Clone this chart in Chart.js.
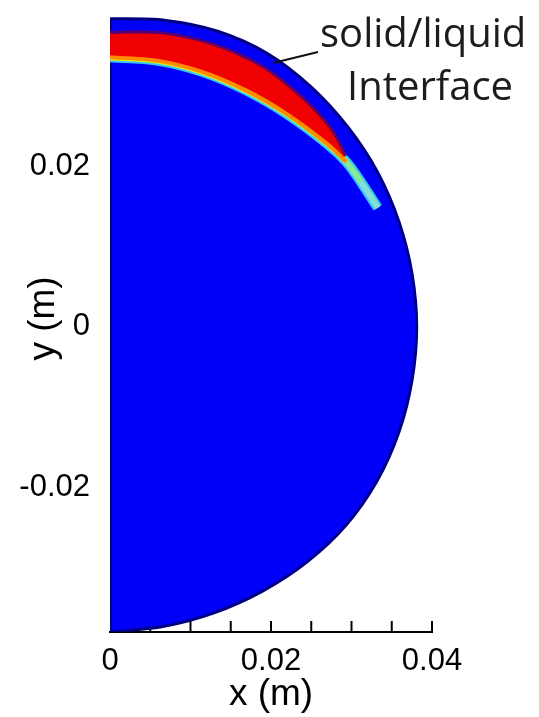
<!DOCTYPE html>
<html>
<head>
<meta charset="utf-8">
<script src="https://cdn.jsdelivr.net/npm/chart.js@4.4.1/dist/chart.umd.min.js"></script>
<style>
  html, body { margin: 0; padding: 0; background: #fff; }
  canvas { display: block; }
</style>
</head>
<body>
<canvas id="graficoFusion" width="539" height="717"></canvas>
<script>
// Borde del dominio (semicirculo), en coordenadas polares: angulo (grados) y radio (m)
const anguloBorde = [90, 80, 70, 60, 50, 40, 30, 20, 10, 0, -10, -20, -30, -40, -50, -60, -70, -80, -90];
const radioBorde = [0.0383, 0.0387, 0.0391, 0.0392, 0.0389, 0.0386, 0.0384, 0.0382, 0.0381, 0.0381,
  0.0381, 0.0382, 0.0383, 0.0383, 0.0381, 0.0379, 0.0378, 0.0378, 0.0379];

// Zona liquida (roja): radio exterior y radio de la interfaz
const anguloLiquido = [90, 80, 70, 60, 50, 42, 36];
const radioLiquidoExt = [0.0366, 0.0371, 0.0374, 0.0375, 0.0372, 0.0369, 0.0362];
const radioLiquidoInt = [0.0335, 0.0336, 0.0337, 0.0339, 0.0344, 0.0351, 0.0357];

// Interfaz solido/liquido
const anguloInterfaz = [90, 80, 70, 60, 50, 40, 35, 30, 24];
const radioInterfaz = [0.0335, 0.0336, 0.0337, 0.0339, 0.0344, 0.0353, 0.0358, 0.0360, 0.0364];

// Ejes
const ticksX = [0, 0.02, 0.04];
const marcasEjeX = [0.005, 0.01, 0.015, 0.02, 0.025, 0.03, 0.035, 0.04];
const ticksY = [-0.02, 0, 0.02];

const FUENTE = '"Liberation Sans", Arial, sans-serif';

function aCartesiano(angulos, radios) {
  return angulos.map((a, i) => ({
    x: radios[i] * Math.cos(a * Math.PI / 180),
    y: radios[i] * Math.sin(a * Math.PI / 180)
  }));
}

const puntosBorde = aCartesiano(anguloBorde, radioBorde);
puntosBorde.push(puntosBorde[0]); // cerrar por el eje x = 0

const puntosLiquido = aCartesiano(anguloLiquido, radioLiquidoExt)
  .concat(aCartesiano(anguloLiquido, radioLiquidoInt).reverse());
puntosLiquido.push(puntosLiquido[0]);

const puntosInterfaz = aCartesiano(anguloInterfaz, radioInterfaz);
const puntosTransicion = aCartesiano(anguloLiquido, radioLiquidoExt);

// colores de la interfaz, de arriba hacia el extremo
const coloresInterfaz = ['#f2ee00', '#eef000', '#e6f206', '#d6f214', '#bcf030', '#a0ee60', '#88e8a0', '#80e0d8'];

// marcas pequeñas del eje x, hacia dentro
const marcasX = {
  id: 'marcasX',
  beforeDatasetsDraw(chart) {
    const { ctx, scales: { x } } = chart;
    ctx.save();
    ctx.strokeStyle = '#000';
    ctx.lineWidth = 2;
    marcasEjeX.forEach(v => {
      const px = x.getPixelForValue(v);
      ctx.beginPath();
      ctx.moveTo(px, x.top);
      ctx.lineTo(px, x.top - 11);
      ctx.stroke();
    });
    ctx.restore();
  }
};

// rotulo de la interfaz con su linea guia
const rotulo = {
  id: 'rotulo',
  afterDraw(chart) {
    const ctx = chart.ctx;
    ctx.save();
    ctx.strokeStyle = '#111';
    ctx.lineWidth = 2;
    ctx.beginPath();
    ctx.moveTo(318, 52);
    ctx.lineTo(273, 63);
    ctx.stroke();
    ctx.fillStyle = '#1c1c1c';
    ctx.font = '40px "Open Sans", sans-serif';
    ctx.textBaseline = 'alphabetic';
    ctx.fillText('solid/liquid', 320, 47);
    ctx.fillText('Interface', 347, 100);
    ctx.restore();
  }
};

function linea(datos, extra) {
  return Object.assign({
    data: datos,
    showLine: true,
    pointRadius: 0,
    fill: false,
    tension: 0.35
  }, extra);
}

new Chart(document.getElementById('graficoFusion'), {
  type: 'scatter',
  data: {
    datasets: [
      linea(puntosBorde, {
        order: 6, tension: 0.3, fill: 'shape',
        backgroundColor: '#0000f8', borderColor: '#00007c', borderWidth: 3
      }),
      linea(puntosInterfaz, {
        order: 5, borderColor: '#38c8f0', borderWidth: 10
      }),
      linea(puntosInterfaz, {
        order: 4, borderWidth: 6,
        segment: { borderColor: c => coloresInterfaz[c.p0DataIndex] }
      }),
      linea(puntosLiquido, {
        order: 3, tension: 0, fill: 'shape',
        backgroundColor: '#f00000', borderColor: 'rgba(0,0,0,0)', borderWidth: 0
      }),
      linea(puntosTransicion, {
        order: 2, borderColor: '#5a0070', borderWidth: 3
      }),
      linea(puntosInterfaz.slice(0, 7), {
        order: 1, borderColor: '#ff8a00', borderWidth: 4
      })
    ]
  },
  options: {
    responsive: false,
    animation: false,
    devicePixelRatio: 1,
    layout: { padding: { top: 5, right: 107, bottom: 0, left: 0 } },
    plugins: {
      legend: { display: false },
      tooltip: { enabled: false }
    },
    scales: {
      x: {
        type: 'linear',
        min: 0,
        max: 0.04,
        afterBuildTicks: s => { s.ticks = ticksX.map(v => ({ value: v })); },
        afterFit: s => { s.height = 85; s.paddingLeft = 0; s.paddingRight = 0; },
        grid: { display: false },
        border: { display: true, color: '#000', width: 2 },
        ticks: {
          padding: 3,
          maxRotation: 0,
          autoSkip: false,
          color: '#000',
          font: { family: FUENTE, size: 31 },
          callback: v => String(v)
        },
        title: {
          display: true,
          text: 'x (m)',
          color: '#000',
          font: { family: FUENTE, size: 37 },
          padding: { top: 0, bottom: 0 }
        }
      },
      y: {
        type: 'linear',
        min: -0.0379,
        max: 0.040,
        afterBuildTicks: s => { s.ticks = ticksY.map(v => ({ value: v })); },
        afterFit: s => { s.width = 110; s.paddingTop = 0; s.paddingBottom = 0; },
        grid: { display: false },
        border: { display: false },
        ticks: {
          padding: 12,
          color: '#000',
          font: { family: FUENTE, size: 31 },
          callback: v => String(v)
        },
        title: {
          display: true,
          text: 'y (m)',
          color: '#000',
          font: { family: FUENTE, size: 37 },
          padding: { top: 22, bottom: 0 }
        }
      }
    }
  },
  plugins: [marcasX, rotulo]
});
</script>
</body>
</html>
